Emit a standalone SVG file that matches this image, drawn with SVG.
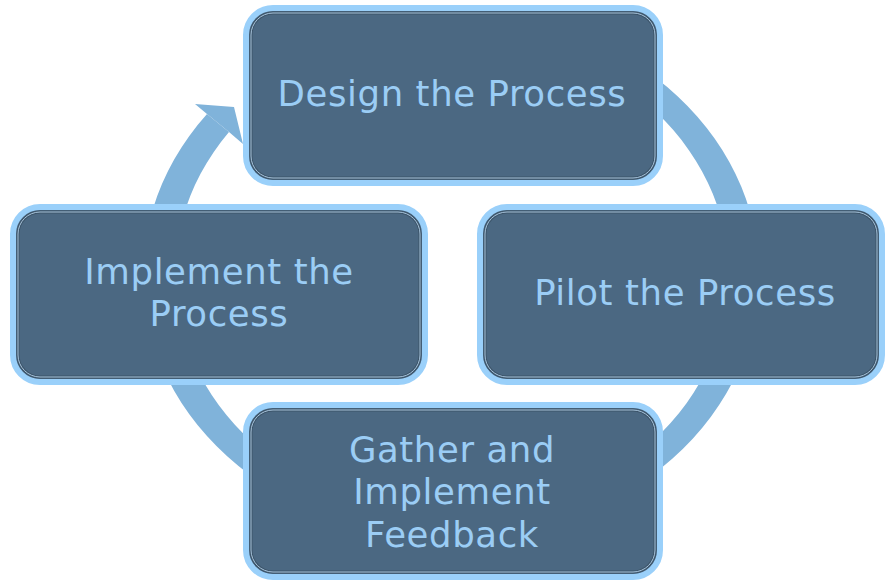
<svg xmlns="http://www.w3.org/2000/svg" width="886" height="581" viewBox="0 0 886 581">
<style>
.box{fill:#4b6882;stroke:#9ad0fa;stroke-width:6}
.dl{fill:none;stroke:#3c5469;stroke-width:3}
.ll{fill:none;stroke:#a9c6de;stroke-width:1}
.ring{fill:#80b3da}
text{font-family:"DejaVu Sans","Liberation Sans",sans-serif;font-size:35.5px;letter-spacing:0.6px;fill:#9bcdf5;text-anchor:middle}
</style>
<rect width="886" height="581" fill="#ffffff"/>
<g id="connectors">
<path class="ring" fill-rule="evenodd" d="M207,114 A308,264 0 1 0 605,46.4 L590.5,66.3 A277,241 0 1 1 229,132 Z"/>
<polygon class="ring" points="207,114 195,104 234,107 243,144 229,132"/>
</g>
<g id="design">
<rect class="box" x="246" y="8" width="414" height="175" rx="27"/>
<rect class="dl" x="251" y="13" width="404" height="165" rx="22"/>
<rect class="ll" x="251" y="13" width="404" height="165" rx="22"/>
<text x="452" y="106">Design the Process</text>
</g>
<g id="pilot">
<rect class="box" x="480" y="207" width="402" height="175" rx="27"/>
<rect class="dl" x="485" y="212" width="392" height="165" rx="22"/>
<rect class="ll" x="485" y="212" width="392" height="165" rx="22"/>
<text x="685" y="305">Pilot the Process</text>
</g>
<g id="implement">
<rect class="box" x="13" y="207" width="412" height="175" rx="27"/>
<rect class="dl" x="18" y="212" width="402" height="165" rx="22"/>
<rect class="ll" x="18" y="212" width="402" height="165" rx="22"/>
<text x="219" y="284">Implement the</text>
<text x="219" y="326">Process</text>
</g>
<g id="gather">
<rect class="box" x="246" y="405" width="414" height="172" rx="27"/>
<rect class="dl" x="251" y="410" width="404" height="162" rx="22"/>
<rect class="ll" x="251" y="410" width="404" height="162" rx="22"/>
<text x="452" y="462">Gather and</text>
<text x="452" y="504">Implement</text>
<text x="452" y="547">Feedback</text>
</g>
</svg>
